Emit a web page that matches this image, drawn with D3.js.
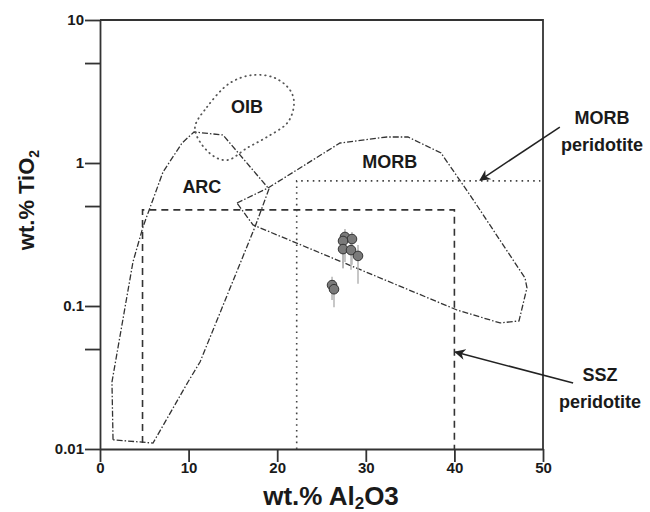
<!DOCTYPE html>
<html>
<head>
<meta charset="utf-8">
<script src="https://cdn.jsdelivr.net/npm/d3@7"></script>
<style>
  body { margin: 0; background: #fff; }
  text { font-family: "Liberation Sans", Arial, sans-serif; font-weight: bold; fill: #1a1a1a; }
</style>
</head>
<body>
<div id="chart"></div>
<script>
// tectonic fields, Al2O3 vs TiO2
var arcAl = [1.47, 1.35, 3.72, 4.85, 7.11, 9.26, 10.61, 13.88, 19.07, 17.49, 11.29, 9.93, 5.98];
var arcTi = [0.0116, 0.0294, 0.203, 0.357, 0.865, 1.38, 1.647, 1.57, 0.658, 0.357, 0.0406, 0.0294, 0.011];

var morbAl = [15.46, 18.96, 27.09, 32.39, 34.76, 38.49, 41.99, 47.97, 48.19, 47.29, 45.15, 40.29, 17.27];
var morbTi = [0.525, 0.669, 1.38, 1.52, 1.52, 1.175, 0.569, 0.157, 0.134, 0.0786, 0.0761, 0.0938, 0.369];

var oibAl = [10.72, 12.08, 14.67, 17.27, 19.75, 21.44, 21.9, 21.22, 18.85, 16.59, 14.45, 12.98, 11.29];
var oibTi = [1.785, 2.464, 3.626, 4.125, 3.93, 3.24, 2.63, 1.935, 1.52, 1.273, 1.05, 1.1, 1.403];

// peridotite limits
var sszAl = [4.8, 4.8, 40, 40];
var sszTi = [0.011, 0.47, 0.47, 0.01];
var morbPerAl = [22.2, 22.2, 49.7];
var morbPerTi = [0.01, 0.75, 0.75];

// samples with error bars
var sampleAl = [27.65, 28.44, 27.43, 27.43, 28.33, 29.12, 26.19, 26.41];
var sampleTi = [0.304, 0.294, 0.285, 0.25, 0.246, 0.224, 0.14, 0.131];
var sampleLo = [0.203, 0.194, 0.184, 0.184, 0.179, 0.143, 0.11, 0.098];
var sampleHi = [0.346, 0.329, 0.324, 0.299, 0.289, 0.267, 0.16, 0.152];

var xTicks = [0, 10, 20, 30, 40, 50];
var yTicks = [0.01, 0.1, 1, 10];
var yMinor = [0.05, 0.5, 5];

var margin = {top: 20, right: 107, bottom: 63, left: 100},
    width = 650 - margin.left - margin.right,
    height = 512 - margin.top - margin.bottom;

var svg = d3.select("#chart")
  .append("svg")
    .attr("width", 650)
    .attr("height", 512)
  .append("g")
    .attr("transform", "translate(" + margin.left + "," + margin.top + ")");

var x = d3.scaleLinear().domain([0, 50]).range([0, width]);
var y = d3.scaleLog().domain([0.01, 10]).range([height, 0]);

var axisColor = "#333";

// X axis
var gx = svg.append("g")
  .attr("transform", "translate(0," + height + ")")
  .call(d3.axisBottom(x).tickValues(xTicks).tickFormat(d3.format("d")).tickSize(13).tickSizeOuter(0));
// Y axis
var gy = svg.append("g")
  .call(d3.axisLeft(y).tickValues(yTicks.concat(yMinor))
    .tickFormat(function(d) { return yTicks.indexOf(d) >= 0 ? String(d) : ""; })
    .tickSize(15).tickSizeOuter(0));

[gx, gy].forEach(function(g) {
  g.select(".domain").attr("stroke", axisColor).attr("stroke-width", 1.8);
  g.selectAll(".tick line").attr("stroke", axisColor).attr("stroke-width", 1.8);
  g.selectAll(".tick text").style("font-size", "15px").attr("fill", "#1a1a1a");
});
gx.selectAll(".tick text").attr("dy", "0.5em");
gy.selectAll(".tick text").attr("x", -16);

// frame top & right
svg.append("path")
  .attr("d", "M0,0H" + width + "V" + height)
  .attr("fill", "none")
  .attr("stroke", axisColor)
  .attr("stroke-width", 1.8);

function pts(a, t) { return a.map(function(v, i) { return [x(v), y(t[i])]; }); }

var lineOpen = d3.line();
var lineClosed = d3.line().curve(d3.curveLinearClosed);
var lineSmooth = d3.line().curve(d3.curveCatmullRomClosed.alpha(0.5));

// peridotite boxes
svg.append("path")
  .attr("d", lineOpen(pts(sszAl, sszTi)))
  .attr("fill", "none").attr("stroke", "#333").attr("stroke-width", 1.6)
  .attr("stroke-dasharray", "7,5");
svg.append("path")
  .attr("d", lineOpen(pts(morbPerAl, morbPerTi)))
  .attr("fill", "none").attr("stroke", "#444").attr("stroke-width", 1.6)
  .attr("stroke-dasharray", "1.6,4.2");

// fields
svg.append("path")
  .attr("d", lineClosed(pts(arcAl, arcTi)))
  .attr("fill", "none").attr("stroke", "#333").attr("stroke-width", 1.3)
  .attr("stroke-dasharray", "6,2,1.5,2");
svg.append("path")
  .attr("d", lineClosed(pts(morbAl, morbTi)))
  .attr("fill", "none").attr("stroke", "#333").attr("stroke-width", 1.3)
  .attr("stroke-dasharray", "6,2,1.5,2");
svg.append("path")
  .attr("d", lineSmooth(pts(oibAl, oibTi)))
  .attr("fill", "none").attr("stroke", "#555").attr("stroke-width", 1.8)
  .attr("stroke-linecap", "round")
  .attr("stroke-dasharray", "0.5,4.5");

// field labels
svg.append("text").attr("x", x(16.6)).attr("y", y(2.24)).attr("text-anchor", "middle").style("font-size", "18px").text("OIB");
svg.append("text").attr("x", x(11.5)).attr("y", y(0.617)).attr("text-anchor", "middle").style("font-size", "18px").text("ARC");
svg.append("text").attr("x", x(32.7)).attr("y", y(0.923)).attr("text-anchor", "middle").style("font-size", "18px").text("MORB");

// error bars
svg.append("g").selectAll("line")
  .data(sampleAl)
  .enter()
  .append("line")
    .attr("x1", function(d) { return x(d); })
    .attr("x2", function(d) { return x(d); })
    .attr("y1", function(d, i) { return y(sampleLo[i]); })
    .attr("y2", function(d, i) { return y(sampleHi[i]); })
    .attr("stroke", "#b5b5b5")
    .attr("stroke-width", 1.5);

// samples
svg.append("g").selectAll("circle")
  .data(sampleAl)
  .enter()
  .append("circle")
    .attr("cx", function(d) { return x(d); })
    .attr("cy", function(d, i) { return y(sampleTi[i]); })
    .attr("r", 4.8)
    .style("fill", "#7a7a7a")
    .style("stroke", "#333")
    .style("stroke-width", 1);

// arrows
svg.append("defs").append("marker")
  .attr("id", "arrow")
  .attr("viewBox", "0 0 10 10")
  .attr("refX", 9).attr("refY", 5)
  .attr("markerWidth", 11).attr("markerHeight", 11)
  .attr("markerUnits", "userSpaceOnUse")
  .attr("orient", "auto")
  .append("path")
    .attr("d", "M0,0L10,5L0,10L3,5Z")
    .attr("fill", "#222");

var arrowAl = [[51.9, 42.9], [53.4, 40.1]];
var arrowTi = [[1.785, 0.76], [0.0289, 0.0477]];
arrowAl.forEach(function(a, i) {
  svg.append("line")
    .attr("x1", x(a[0])).attr("y1", y(arrowTi[i][0]))
    .attr("x2", x(a[1])).attr("y2", y(arrowTi[i][1]))
    .attr("stroke", "#222").attr("stroke-width", 1.5)
    .attr("marker-end", "url(#arrow)");
});

// annotation text
var ann = svg.append("g").attr("text-anchor", "middle").style("font-size", "18px");
ann.append("text").attr("x", 502).attr("y", 104).text("MORB");
ann.append("text").attr("x", 502).attr("y", 131).text("peridotite");
ann.append("text").attr("x", 500).attr("y", 361).text("SSZ");
ann.append("text").attr("x", 500).attr("y", 388).text("peridotite");

// axis titles
var xt = svg.append("text")
  .attr("x", 231).attr("y", 485)
  .attr("text-anchor", "middle")
  .style("font-size", "26px");
xt.append("tspan").text("wt.% Al");
xt.append("tspan").attr("dy", 4).style("font-size", "17px").text("2");
xt.append("tspan").attr("dy", -4).text("O3");

var yt = svg.append("text")
  .attr("transform", "translate(-66," + 180 + ") rotate(-90)")
  .attr("text-anchor", "middle")
  .style("font-size", "22px");
yt.append("tspan").text("wt.% TiO");
yt.append("tspan").attr("dy", 5).style("font-size", "14px").text("2");
</script>
</body>
</html>
